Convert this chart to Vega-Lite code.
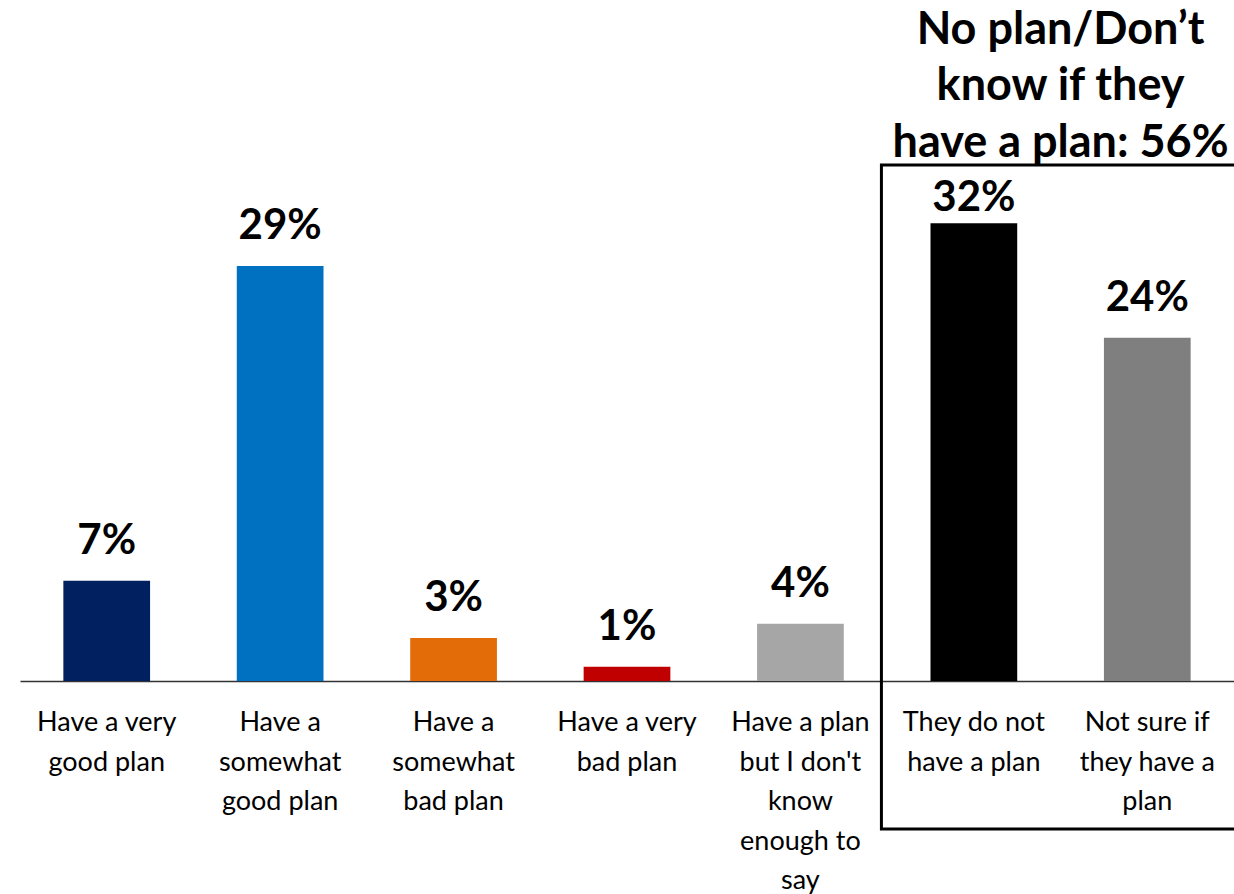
{
  "$schema": "https://vega.github.io/schema/vega-lite/v6.json",
  "autosize": "none",
  "width": 1214,
  "height": 681,
  "padding": {"left": 20, "top": 0, "right": 0, "bottom": 213},
  "background": "white",
  "config": {"view": {"stroke": null}, "font": "Lato"},
  "data": {
    "values": [
      {"answer": "Have a very\ngood plan", "pct": 0.07, "color": "#002060"},
      {"answer": "Have a\nsomewhat\ngood plan", "pct": 0.29, "color": "#0070C0"},
      {"answer": "Have a\nsomewhat\nbad plan", "pct": 0.03, "color": "#E36C09"},
      {"answer": "Have a very\nbad plan", "pct": 0.01, "color": "#C00000"},
      {"answer": "Have a plan\nbut I don't\nknow\nenough to\nsay", "pct": 0.04, "color": "#A6A6A6"},
      {"answer": "They do not\nhave a plan", "pct": 0.32, "color": "#000000"},
      {"answer": "Not sure if\nthey have a\nplan", "pct": 0.24, "color": "#7F7F7F"}
    ]
  },
  "layer": [
    {
      "layer": [
        {
          "mark": {"type": "bar"},
          "encoding": {
            "x": {
              "field": "answer", "type": "nominal", "sort": null,
              "scale": {"paddingInner": 0.5, "paddingOuter": 0.25},
              "axis": {
                "title": null, "ticks": false, "labelAngle": 0,
                "labelExpr": "split(datum.label, '\\n')",
                "labelFont": "Lato", "labelFontSize": 27, "labelColor": "#000000",
                "labelBaseline": "alphabetic", "labelPadding": 49.5, "labelLineHeight": 39.5,
                "domainColor": "#333333", "domainWidth": 1.5
              }
            },
            "y": {"field": "pct", "type": "quantitative", "scale": {"domain": [0, 0.476], "nice": false}, "axis": null},
            "color": {"field": "color", "type": "nominal", "scale": null}
          }
        },
        {
          "transform": [{"filter": "datum.pct != 0.32"}],
          "mark": {"type": "text", "font": "Lato", "fontWeight": "bold", "fontSize": 42, "baseline": "alphabetic", "dy": -27, "color": "#000000"},
          "encoding": {
            "x": {"field": "answer", "type": "nominal", "sort": null},
            "y": {"field": "pct", "type": "quantitative"},
            "text": {"field": "pct", "type": "quantitative", "format": ".0%"}
          }
        },
        {
          "transform": [{"filter": "datum.pct == 0.32"}],
          "mark": {"type": "text", "font": "Lato", "fontWeight": "bold", "fontSize": 42, "baseline": "alphabetic", "dy": -12, "color": "#000000"},
          "encoding": {
            "x": {"field": "answer", "type": "nominal", "sort": null},
            "y": {"field": "pct", "type": "quantitative"},
            "text": {"field": "pct", "type": "quantitative", "format": ".0%"}
          }
        }
      ]
    },
    {
      "data": {"values": [{"group": "No plan/Don\u2019t\nknow if they\nhave a plan: 56%"}]},
      "layer": [
        {
          "mark": {"type": "rect", "fill": null, "stroke": "#000000", "strokeWidth": 3, "clip": false},
          "encoding": {
            "x": {"datum": 4.967, "type": "quantitative", "scale": {"domain": [0, 7], "nice": false, "zero": false}, "axis": null},
            "x2": {"datum": 7.3},
            "y": {"datum": 0.3607, "type": "quantitative"},
            "y2": {"datum": -0.1035}
          }
        },
        {
          "mark": {"type": "text", "font": "Lato", "fontWeight": "bold", "fontSize": 45, "baseline": "alphabetic", "align": "center", "lineBreak": "\n", "lineHeight": 56.5, "color": "#000000"},
          "encoding": {
            "x": {"datum": 6, "type": "quantitative"},
            "y": {"datum": 0.4453, "type": "quantitative"},
            "text": {"field": "group"}
          }
        }
      ]
    }
  ],
  "resolve": {"scale": {"x": "independent"}}
}
